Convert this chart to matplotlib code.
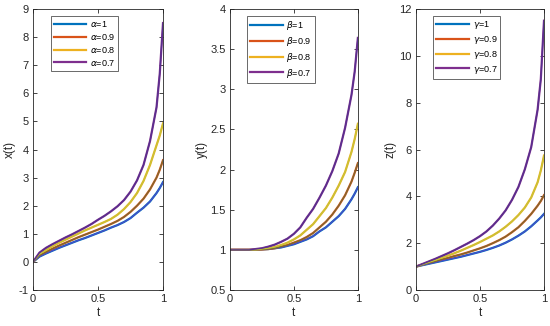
import matplotlib
matplotlib.use('Agg')
import matplotlib.pyplot as plt
import numpy as np

plt.rcParams['font.family'] = ['Liberation Sans', 'DejaVu Sans']
plt.rcParams['mathtext.fontset'] = 'dejavusans'

t = [0, 0.05, 0.1, 0.15, 0.2, 0.25, 0.3, 0.35, 0.4, 0.45, 0.5,
     0.55, 0.6, 0.65, 0.7, 0.75, 0.8, 0.85, 0.9, 0.95, 0.975, 1.0]

# x(t) for alpha = 1, 0.9, 0.8, 0.7
x_a1 = [0, 0.19, 0.30, 0.40, 0.50, 0.59, 0.68, 0.77, 0.85, 0.94, 1.03,
        1.12, 1.22, 1.31, 1.42, 1.56, 1.75, 1.93, 2.15, 2.45, 2.63, 2.84]
x_a09 = [0, 0.23, 0.35, 0.47, 0.58, 0.68, 0.78, 0.88, 0.97, 1.06, 1.15,
         1.25, 1.35, 1.46, 1.60, 1.78, 2.00, 2.25, 2.58, 3.00, 3.28, 3.62]
x_a08 = [0, 0.28, 0.42, 0.56, 0.68, 0.79, 0.90, 1.01, 1.12, 1.22, 1.32,
         1.42, 1.53, 1.68, 1.88, 2.13, 2.45, 2.88, 3.45, 4.15, 4.50, 4.93]
x_a07 = [0, 0.33, 0.50, 0.63, 0.75, 0.87, 0.98, 1.10, 1.22, 1.35, 1.50,
         1.64, 1.80, 1.98, 2.20, 2.50, 2.90, 3.45, 4.30, 5.50, 6.70, 8.50]

# y(t) for beta
y_b1 = [1, 1, 1, 1, 1, 1.005, 1.01, 1.02, 1.03, 1.05, 1.07,
        1.10, 1.13, 1.17, 1.23, 1.28, 1.35, 1.42, 1.51, 1.63, 1.70, 1.78]
y_b09 = [1, 1, 1, 1, 1, 1.005, 1.01, 1.02, 1.04, 1.06, 1.09,
         1.12, 1.16, 1.21, 1.28, 1.35, 1.44, 1.55, 1.68, 1.85, 1.96, 2.08]
y_b08 = [1, 1, 1, 1, 1, 1.01, 1.02, 1.035, 1.06, 1.09, 1.13,
         1.18, 1.25, 1.32, 1.42, 1.52, 1.65, 1.80, 1.97, 2.22, 2.38, 2.57]
y_b07 = [1, 1, 1, 1, 1.01, 1.02, 1.04, 1.065, 1.10, 1.14, 1.20,
         1.28, 1.40, 1.51, 1.65, 1.80, 1.98, 2.20, 2.52, 2.93, 3.22, 3.64]

# z(t) for gamma
z_g1 = [1, 1.06, 1.12, 1.18, 1.24, 1.30, 1.36, 1.42, 1.49, 1.56, 1.63,
        1.71, 1.80, 1.90, 2.02, 2.16, 2.32, 2.50, 2.72, 2.97, 3.10, 3.25]
z_g09 = [1, 1.08, 1.15, 1.22, 1.30, 1.37, 1.45, 1.52, 1.60, 1.69, 1.78,
         1.88, 2.00, 2.13, 2.28, 2.47, 2.68, 2.95, 3.25, 3.60, 3.80, 4.05]
z_g08 = [1, 1.09, 1.18, 1.27, 1.37, 1.47, 1.57, 1.68, 1.80, 1.92, 2.05,
         2.19, 2.33, 2.50, 2.70, 2.93, 3.20, 3.52, 3.95, 4.60, 5.10, 5.74]
z_g07 = [1, 1.11, 1.22, 1.33, 1.45, 1.57, 1.70, 1.84, 1.98, 2.13, 2.30,
         2.50, 2.75, 3.05, 3.40, 3.85, 4.40, 5.15, 6.10, 7.70, 9.00, 11.50]

orders = ['1', '0.9', '0.8', '0.7']
colors = ['#0072BD', '#D95319', '#EDB120', '#7E2F8E']
overlay = ['#4a4ac8', '#7a6a30', '#c4c438', '#55308f']

panels = [
    (r'$\alpha$', 'x(t)', [x_a1, x_a09, x_a08, x_a07], (-1, 9), np.arange(-1, 10, 1), [0.06, 0.2364]),
    (r'$\beta$', 'y(t)', [y_b1, y_b09, y_b08, y_b07], (0.5, 4), np.arange(0.5, 4.01, 0.5), [0.418, 0.2327]),
    (r'$\gamma$', 'z(t)', [z_g1, z_g09, z_g08, z_g07], (0, 12), np.arange(0, 13, 2), [0.7564, 0.2327]),
]

fig = plt.figure(figsize=(5.5, 3.26), dpi=100)
for sym, ylab, series, ylim, yt, (left, w) in panels:
    ax = fig.add_axes([left, 0.1104, w, 0.862])
    for s, c, o in zip(series, colors, orders):
        ax.plot(t, s, color=c, lw=1.6, label=sym + '=' + o)
    # darker thin line drawn over each curve
    for s, oc in zip(series, overlay):
        ax.plot(t, s, color=oc, lw=0.9)
    ax.set_xlim(0, 1)
    ax.set_ylim(*ylim)
    ax.set_xticks([0, 0.5, 1])
    ax.set_xticklabels(['0', '0.5', '1'])
    ax.set_yticks(yt)
    ax.set_yticklabels(['%g' % v for v in yt])
    ax.tick_params(direction='in', top=True, right=True, length=3, width=0.6,
                   labelsize=8, colors='#262626', pad=3)
    for sp in ax.spines.values():
        sp.set_color('#262626')
        sp.set_linewidth(0.6)
    ax.set_xlabel('t', fontsize=8.5, color='#262626', labelpad=2)
    ax.set_ylabel(ylab, fontsize=8.5, color='#262626', labelpad=2)
    leg = ax.legend(loc='upper left', bbox_to_anchor=(0.1, 0.99), fontsize=6.5,
                    handlelength=3.6, frameon=True, fancybox=False,
                    borderpad=0.35, labelspacing=0.3, handletextpad=0.4)
    leg.get_frame().set_edgecolor('#262626')
    leg.get_frame().set_linewidth(0.6)

fig.savefig('out.png', dpi=100)
